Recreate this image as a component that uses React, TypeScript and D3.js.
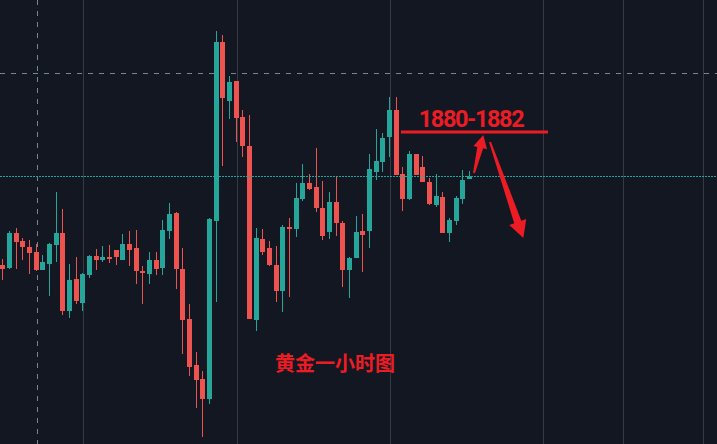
import * as d3 from "d3";
import { useEffect, useRef } from "react";

// 黄金 1 小时 K 线（价格由图上读出）
const opens = [
  1866.7, 1866.4, 1869.9, 1869.1, 1868.5, 1868.0, 1866.2, 1866.8, 1868.7, 1869.9,
  1862.1, 1865.3, 1862.9, 1865.7, 1867.6, 1867.2, 1867.5, 1868.2, 1867.2, 1868.8,
  1868.4, 1866.1, 1865.8, 1867.2, 1866.4, 1870.1, 1871.9, 1866.3, 1861.3, 1856.7,
  1855.3, 1853.3, 1871.1, 1889.0, 1883.1, 1885.1, 1881.5, 1878.6, 1861.2, 1869.3,
  1868.4, 1866.7, 1864.1, 1870.5, 1870.3, 1873.3, 1874.9, 1874.5, 1872.4, 1870.0,
  1873.0, 1870.9, 1866.2, 1867.4, 1870.1, 1870.1, 1876.0, 1877.0, 1879.5, 1882.2,
  1875.8, 1873.3, 1877.8, 1876.5, 1875.0, 1872.7, 1873.5, 1869.9, 1871.1, 1873.3, 1875.3,
];
const highs = [
  1867.3, 1870.1, 1870.4, 1869.4, 1869.2, 1868.8, 1867.7, 1868.9, 1874.0, 1872.3,
  1866.8, 1867.5, 1865.9, 1867.7, 1868.3, 1868.6, 1868.7, 1868.2, 1869.8, 1870.1,
  1870.2, 1866.6, 1868.0, 1868.0, 1871.2, 1872.9, 1872.0, 1868.4, 1862.8, 1858.0,
  1856.1, 1871.4, 1890.1, 1889.7, 1885.6, 1885.1, 1882.2, 1881.7, 1870.4, 1870.3,
  1869.1, 1868.6, 1870.7, 1871.4, 1874.9, 1876.8, 1875.8, 1878.4, 1875.1, 1874.0,
  1875.5, 1871.1, 1867.5, 1871.6, 1871.8, 1877.8, 1880.3, 1879.9, 1883.5, 1883.5,
  1876.5, 1878.1, 1877.8, 1877.6, 1875.4, 1875.8, 1874.0, 1871.4, 1873.6, 1876.2, 1876.1,
];
const lows = [
  1865.2, 1866.3, 1866.3, 1867.2, 1865.8, 1866.1, 1866.2, 1863.6, 1867.0, 1861.7,
  1861.4, 1862.8, 1862.1, 1865.4, 1866.2, 1867.0, 1866.9, 1866.7, 1867.2, 1866.6,
  1864.8, 1862.8, 1864.8, 1865.7, 1865.7, 1869.3, 1864.3, 1857.8, 1855.6, 1852.4,
  1849.5, 1852.8, 1863.0, 1876.6, 1881.3, 1879.0, 1877.5, 1861.3, 1860.1, 1867.7,
  1866.6, 1863.0, 1862.0, 1863.5, 1869.5, 1873.1, 1874.2, 1872.0, 1869.2, 1869.3,
  1869.6, 1864.5, 1863.4, 1867.4, 1866.0, 1868.4, 1875.2, 1876.0, 1877.5, 1875.7,
  1872.1, 1873.2, 1875.7, 1875.0, 1872.7, 1872.5, 1869.9, 1869.0, 1870.7, 1872.8, 1875.3,
];
const closes = [
  1866.3, 1869.9, 1869.0, 1868.5, 1867.9, 1866.2, 1867.0, 1868.8, 1869.9, 1862.1,
  1865.2, 1863.1, 1865.8, 1867.6, 1867.2, 1867.5, 1867.3, 1867.5, 1868.8, 1868.2,
  1866.1, 1865.9, 1867.2, 1866.3, 1870.2, 1871.8, 1866.3, 1861.2, 1856.5, 1855.2,
  1853.3, 1871.3, 1889.0, 1883.4, 1885.0, 1881.4, 1878.6, 1861.3, 1869.4, 1868.0,
  1866.7, 1864.1, 1870.5, 1870.3, 1873.4, 1874.9, 1874.3, 1872.4, 1869.6, 1873.0,
  1870.9, 1866.2, 1867.4, 1870.0, 1869.7, 1876.3, 1877.1, 1879.4, 1882.2, 1875.7,
  1873.3, 1877.8, 1875.7, 1875.0, 1872.8, 1873.6, 1869.9, 1871.2, 1873.4, 1875.2, 1875.6,
];

// 时间网格（按 K 线序号）
const gridTicks = [12.15, 35.15, 58.15, 81.15, 93.15, 105.15];
// 十字光标
const crossIdx = 5.2;
const crossPrice = 1885.9;

// 标注
const targetLabel = "1880-1882";
const targetLine = { from: 59.8, to: 81.85, price: 1880.0 };
const titleLabel = "黄金一小时图";
const arrows = [
  { tail: [70.75, 1875.9], tip: [72.15, 1879.7], tailW: 2, neckW: 6, headW: 14, headL: 13 },
  { tail: [73.15, 1879.0], tip: [78.15, 1869.4], tailW: 2, neckW: 7.5, headW: 18, headL: 17 },
];

const W = 717;
const H = 444;
const UP = "#26a69a";
const DOWN = "#ef5350";
const MARK = "#ec1c24";

export default function App() {
  const ref = useRef<SVGSVGElement>(null);

  useEffect(() => {
    document.body.style.margin = "0";
    if (!ref.current) return;
    const svg = d3.select(ref.current);
    svg.selectAll("*").remove();

    const x = d3.scaleLinear().domain([0, 70]).range([2.3, 469]);
    const y = d3.scaleLinear().domain([1893.2, 1848.8]).range([0, H]);

    svg.append("rect").attr("width", W).attr("height", H).attr("fill", "#131722");

    // 竖向网格
    svg
      .append("g")
      .selectAll("line")
      .data(gridTicks)
      .enter()
      .append("line")
      .attr("x1", (d) => Math.round(x(d)) + 0.5)
      .attr("x2", (d) => Math.round(x(d)) + 0.5)
      .attr("y1", 0)
      .attr("y2", H)
      .attr("stroke", "#363a45")
      .attr("stroke-width", 1);

    // 十字光标
    const cx = Math.round(x(crossIdx)) + 0.5;
    const cy = Math.round(y(crossPrice)) + 0.5;
    svg
      .append("line")
      .attr("x1", cx)
      .attr("x2", cx)
      .attr("y1", 0)
      .attr("y2", H)
      .attr("stroke", "#758696")
      .attr("stroke-dasharray", "5,6");
    svg
      .append("line")
      .attr("x1", 0)
      .attr("x2", W)
      .attr("y1", cy)
      .attr("y2", cy)
      .attr("stroke", "#758696")
      .attr("stroke-dasharray", "5,6");

    // K 线
    const idx = d3.range(opens.length);
    const candles = svg.append("g").selectAll("g").data(idx).enter().append("g");
    const color = (i: number) => (closes[i] >= opens[i] ? UP : DOWN);
    candles
      .append("line")
      .attr("x1", (i) => Math.round(x(i)) + 0.5)
      .attr("x2", (i) => Math.round(x(i)) + 0.5)
      .attr("y1", (i) => Math.round(y(highs[i])))
      .attr("y2", (i) => Math.round(y(lows[i])))
      .attr("stroke", color)
      .attr("stroke-width", 1);
    candles
      .append("rect")
      .attr("x", (i) => Math.round(x(i)) - 2)
      .attr("width", 5)
      .attr("y", (i) => Math.round(y(Math.max(opens[i], closes[i]))))
      .attr("height", (i) =>
        Math.max(1, Math.round(y(Math.min(opens[i], closes[i]))) - Math.round(y(Math.max(opens[i], closes[i]))))
      )
      .attr("fill", color);

    // 最新价虚线
    const last = closes[closes.length - 1];
    const ly = Math.round(y(last)) + 0.5;
    svg
      .append("line")
      .attr("x1", 0)
      .attr("x2", W)
      .attr("y1", ly)
      .attr("y2", ly)
      .attr("stroke", UP)
      .attr("stroke-dasharray", "2,1");

    // 目标位
    svg
      .append("line")
      .attr("x1", x(targetLine.from))
      .attr("x2", x(targetLine.to))
      .attr("y1", y(targetLine.price))
      .attr("y2", y(targetLine.price))
      .attr("stroke", MARK)
      .attr("stroke-width", 3);
    svg
      .append("text")
      .attr("x", x(70.3))
      .attr("y", y(1880.53))
      .attr("text-anchor", "middle")
      .attr("font-family", "Roboto, 'Liberation Sans', sans-serif")
      .attr("font-weight", "bold")
      .attr("font-size", 23.5)
      .attr("letter-spacing", -1.4)
      .attr("fill", MARK)
      .text(targetLabel);

    // 箭头
    arrows.forEach((a) => {
      const x0 = x(a.tail[0]);
      const y0 = y(a.tail[1]);
      const x1 = x(a.tip[0]);
      const y1 = y(a.tip[1]);
      const len = Math.hypot(x1 - x0, y1 - y0);
      const ux = (x1 - x0) / len;
      const uy = (y1 - y0) / len;
      const nx = -uy;
      const ny = ux;
      const bx = x1 - ux * a.headL;
      const by = y1 - uy * a.headL;
      const pts: [number, number][] = [
        [x0 + (nx * a.tailW) / 2, y0 + (ny * a.tailW) / 2],
        [bx + (nx * a.neckW) / 2, by + (ny * a.neckW) / 2],
        [bx + (nx * a.headW) / 2, by + (ny * a.headW) / 2],
        [x1, y1],
        [bx - (nx * a.headW) / 2, by - (ny * a.headW) / 2],
        [bx - (nx * a.neckW) / 2, by - (ny * a.neckW) / 2],
        [x0 - (nx * a.tailW) / 2, y0 - (ny * a.tailW) / 2],
      ];
      svg
        .append("path")
        .attr("d", d3.line()(pts) + "Z")
        .attr("fill", MARK);
    });

    svg
      .append("text")
      .attr("x", x(49.9))
      .attr("y", y(1856.1))
      .attr("text-anchor", "middle")
      .attr("font-family", "'Noto Sans CJK SC', sans-serif")
      .attr("font-weight", "bold")
      .attr("font-size", 20)
      .attr("fill", MARK)
      .text(titleLabel);
  }, []);

  return (
    <div style={{ width: W, height: H }}>
      <svg ref={ref} width={W} height={H} style={{ display: "block" }}></svg>
    </div>
  );
}
